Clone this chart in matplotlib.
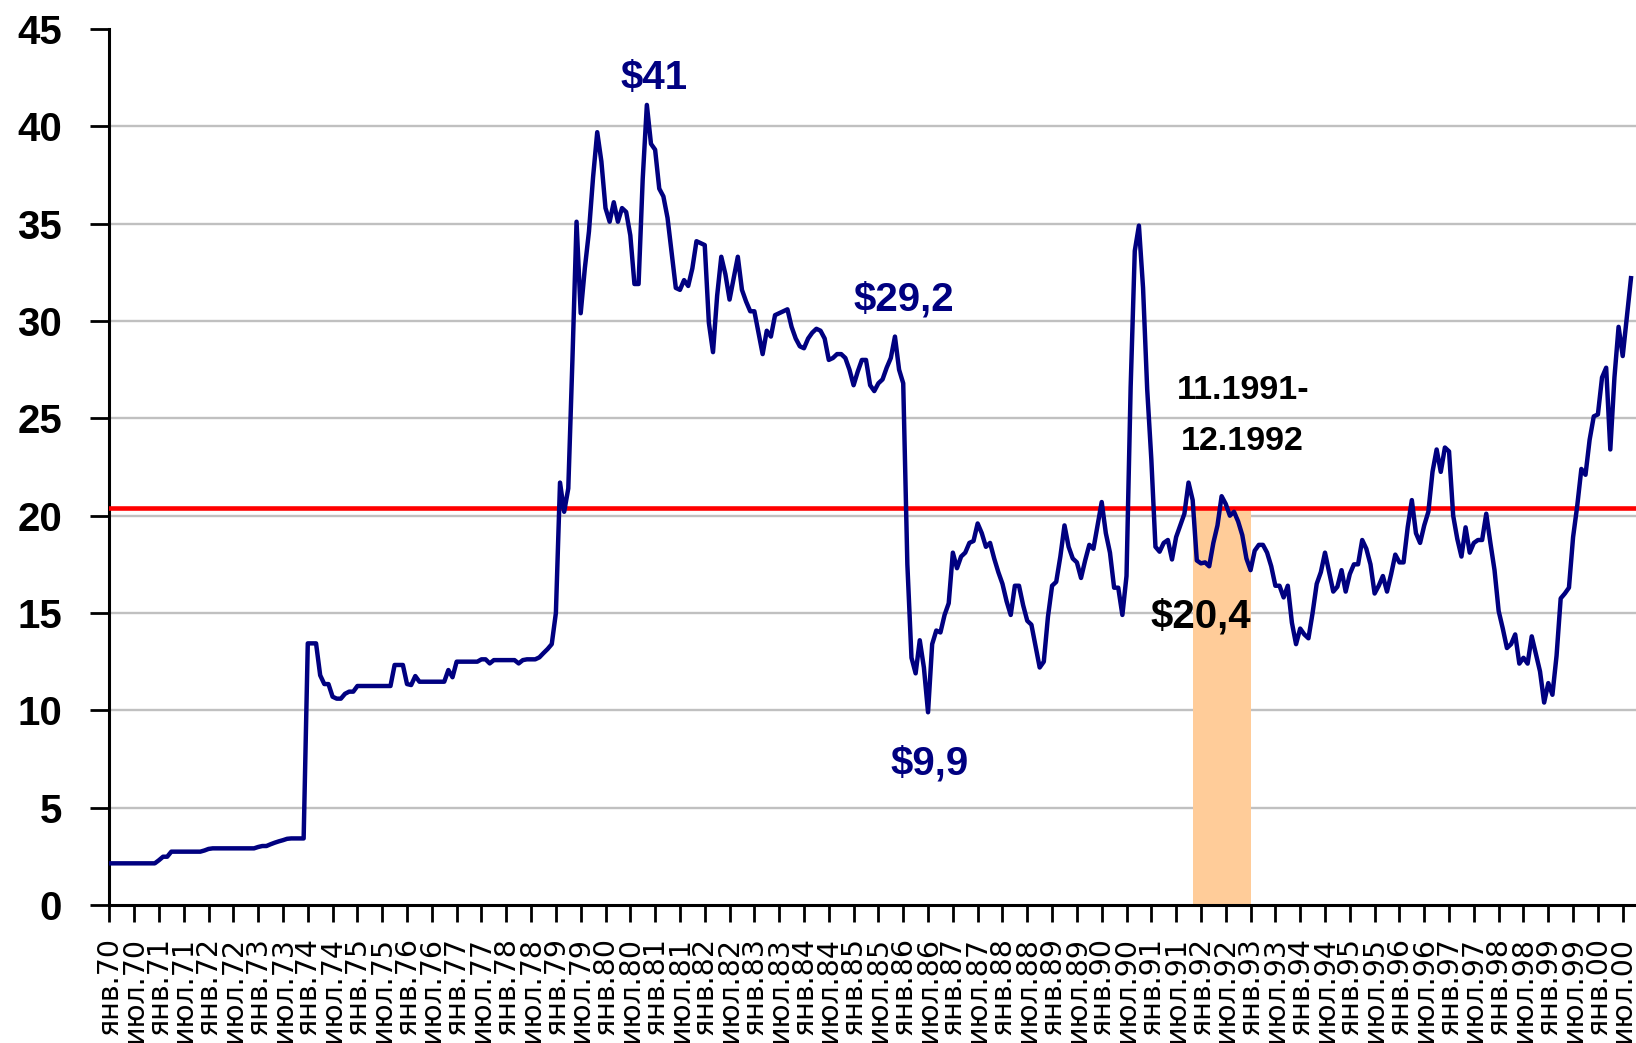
import matplotlib
matplotlib.use("Agg")
import matplotlib.pyplot as plt
import numpy as np

# ---- data: monthly price, Jan 1970 .. Sep 2000 (USD/bbl) ----
price_1970s = [
    2.14, 2.14, 2.14, 2.14, 2.14, 2.14, 2.14, 2.14, 2.14, 2.14, 2.14, 2.14,
    2.30, 2.48, 2.48, 2.74, 2.74, 2.74, 2.74, 2.74, 2.74, 2.74, 2.74, 2.80,
    2.88, 2.91, 2.91, 2.91, 2.91, 2.91, 2.91, 2.91, 2.91, 2.91, 2.91, 2.91,
    2.98, 3.03, 3.03, 3.12, 3.20, 3.27, 3.33, 3.40, 3.42, 3.42, 3.42, 3.42,
    13.44, 13.44, 13.44, 11.80, 11.35, 11.35, 10.70, 10.60, 10.60, 10.85, 10.96, 10.96,
    11.25, 11.25, 11.25, 11.25, 11.25, 11.25, 11.25, 11.25, 11.25, 12.33, 12.33, 12.33,
    11.35, 11.30, 11.76, 11.47, 11.47, 11.47, 11.47, 11.47, 11.47, 11.47, 12.07, 11.70,
    12.50, 12.50, 12.50, 12.50, 12.50, 12.50, 12.62, 12.62, 12.41, 12.58, 12.58, 12.58,
    12.58, 12.58, 12.58, 12.41, 12.58, 12.62, 12.62, 12.62, 12.72, 12.94, 13.15, 13.40,
    15.0, 21.7, 20.2, 21.4, 28.0, 35.1, 30.4, 32.7, 34.6, 37.4, 39.7, 38.2,
]
price_1980s = [
    35.8, 35.1, 36.1, 35.1, 35.8, 35.6, 34.4, 31.9, 31.9, 37.3, 41.1, 39.1,
    38.8, 36.8, 36.4, 35.3, 33.5, 31.7, 31.6, 32.1, 31.8, 32.7, 34.1, 34.0,
    33.9, 29.9, 28.4, 31.3, 33.3, 32.4, 31.1, 32.2, 33.3, 31.6, 31.0, 30.5,
    30.5, 29.4, 28.3, 29.5, 29.2, 30.3, 30.4, 30.5, 30.6, 29.7, 29.1, 28.7,
    28.6, 29.1, 29.4, 29.6, 29.5, 29.1, 28.0, 28.1, 28.3, 28.3, 28.1, 27.5,
    26.7, 27.4, 28.0, 28.0, 26.7, 26.4, 26.8, 27.0, 27.6, 28.1, 29.2, 27.5,
    26.8, 17.5, 12.7, 11.9, 13.6, 12.2, 9.9, 13.4, 14.1, 14.0, 14.9, 15.5,
    18.1, 17.3, 17.9, 18.1, 18.6, 18.7, 19.6, 19.1, 18.4, 18.6, 17.8, 17.1,
    16.5, 15.6, 14.9, 16.4, 16.4, 15.4, 14.6, 14.4, 13.3, 12.2, 12.5, 14.8,
    16.4, 16.6, 17.9, 19.5, 18.4, 17.8, 17.6, 16.8, 17.7, 18.5, 18.3, 19.5,
]
price_1990s = [
    20.7, 19.1, 18.1, 16.3, 16.3, 14.9, 16.9, 26.6, 33.6, 34.9, 31.7, 26.5,
    22.9, 18.4, 18.15, 18.6, 18.75, 17.75, 18.9, 19.5, 20.1, 21.7, 20.8, 17.7,
    17.55, 17.6, 17.4, 18.6, 19.5, 21.0, 20.6, 20.0, 20.2, 19.7, 19.0, 17.8,
    17.2, 18.2, 18.5, 18.5, 18.1, 17.4, 16.4, 16.4, 15.8, 16.4, 14.5, 13.4,
    14.2, 13.9, 13.7, 15.0, 16.5, 17.1, 18.1, 17.1, 16.1, 16.35, 17.2, 16.1,
    17.0, 17.5, 17.5, 18.75, 18.3, 17.5, 16.0, 16.4, 16.9, 16.1, 17.0, 18.0,
    17.6, 17.6, 19.4, 20.8, 19.1, 18.6, 19.5, 20.2, 22.25, 23.4, 22.25, 23.5,
    23.3, 20.0, 18.8, 17.9, 19.4, 18.1, 18.6, 18.75, 18.75, 20.1, 18.6, 17.2,
    15.1, 14.2, 13.2, 13.4, 13.9, 12.4, 12.7, 12.4, 13.8, 12.9, 12.0, 10.4,
    11.4, 10.8, 12.8, 15.75, 16.0, 16.3, 18.9, 20.5, 22.4, 22.1, 23.9, 25.1,
]
price_2000 = [25.2, 27.1, 27.6, 23.4, 27.1, 29.7, 28.2, 30.2, 32.2]

tick_labels = [
    "янв.70", "июл.70", "янв.71", "июл.71", "янв.72", "июл.72", "янв.73", "июл.73",
    "янв.74", "июл.74", "янв.75", "июл.75", "янв.76", "июл.76", "янв.77", "июл.77",
    "янв.78", "июл.78", "янв.79", "июл.79", "янв.80", "июл.80", "янв.81", "июл.81",
    "янв.82", "июл.82", "янв.83", "июл.83", "янв.84", "июл.84", "янв.85", "июл.85",
    "янв.86", "июл.86", "янв.87", "июл.87", "янв.88", "июл.88", "янв.89", "июл.89",
    "янв.90", "июл.90", "янв.91", "июл.91", "янв.92", "июл.92", "янв.93", "июл.93",
    "янв.94", "июл.94", "янв.95", "июл.95", "янв.96", "июл.96", "янв.97", "июл.97",
    "янв.98", "июл.98", "янв.99", "июл.99", "янв.00", "июл.00",
]

# period 11.1991 - 12.1992 (month indices from Jan 1970) and its level
shade_months = [262, 263, 264, 265, 266, 267, 268, 269, 270, 271, 272, 273, 274, 275]
avg_price = 20.4
y_ticks = [0, 5, 10, 15, 20, 25, 30, 35, 40, 45]

# ---- figure ----
W, H = 1636, 1043
fig = plt.figure(figsize=(W / 100, H / 100), dpi=100)
x0, y0, ytop = 109.3, 905.0, 29.0
ax = fig.add_axes([x0 / W, (H - y0) / H, 1 - x0 / W, (y0 - ytop) / H])

price = np.array(price_1970s + price_1980s + price_1990s + price_2000)
months = np.arange(len(price))

ax.bar(shade_months, [avg_price] * len(shade_months), width=1.0, align="edge",
       color="#FFCC99", linewidth=0, zorder=2)
ax.axhline(avg_price, color="#FF0000", lw=3.3, zorder=3)
ax.plot(months, price, color="#000080", lw=3.2, zorder=4, solid_joinstyle="round")

ax.set_xlim(0, (W - x0) / 4.135)
ax.set_ylim(0, 45)

ax.set_yticks(y_ticks)
ax.set_yticklabels([str(v) for v in y_ticks], fontsize=29, fontweight="bold",
                   family="Liberation Sans")
ax.set_xticks(np.arange(0, len(tick_labels) * 6, 6))
ax.set_xticklabels(tick_labels, rotation=90, fontsize=20.5, family="DejaVu Sans")
ax.tick_params(axis="x", length=12, width=2, pad=11, direction="out")
ax.tick_params(axis="y", length=14, width=2, pad=20, direction="out")

ax.yaxis.grid(True, color="#C0C0C0", lw=1.7)
ax.set_axisbelow(True)
gl = ax.get_ygridlines()
gl[-1].set_visible(False)
gl[0].set_visible(False)

for s in ("top", "right"):
    ax.spines[s].set_visible(False)
for s in ("left", "bottom"):
    ax.spines[s].set_linewidth(2.2)
    ax.spines[s].set_color("black")

bold = dict(fontweight="bold", family="Liberation Sans", ha="center", va="baseline", zorder=6)
ax.text(131.8, 41.9, "$41", fontsize=29, color="#000080", **bold)
ax.text(192.2, 30.55, "$29,2", fontsize=29, color="#000080", **bold)
ax.text(198.5, 6.72, "$9,9", fontsize=29, color="#000080", **bold)
ax.text(264.0, 14.26, "$20,4", fontsize=29, color="black", **bold)
ax.text(274.2, 26.0, "11.1991-", fontsize=24.5, color="black", **bold)
ax.text(273.9, 23.37, "12.1992", fontsize=24.5, color="black", **bold)

fig.savefig("out.png", dpi=100)
